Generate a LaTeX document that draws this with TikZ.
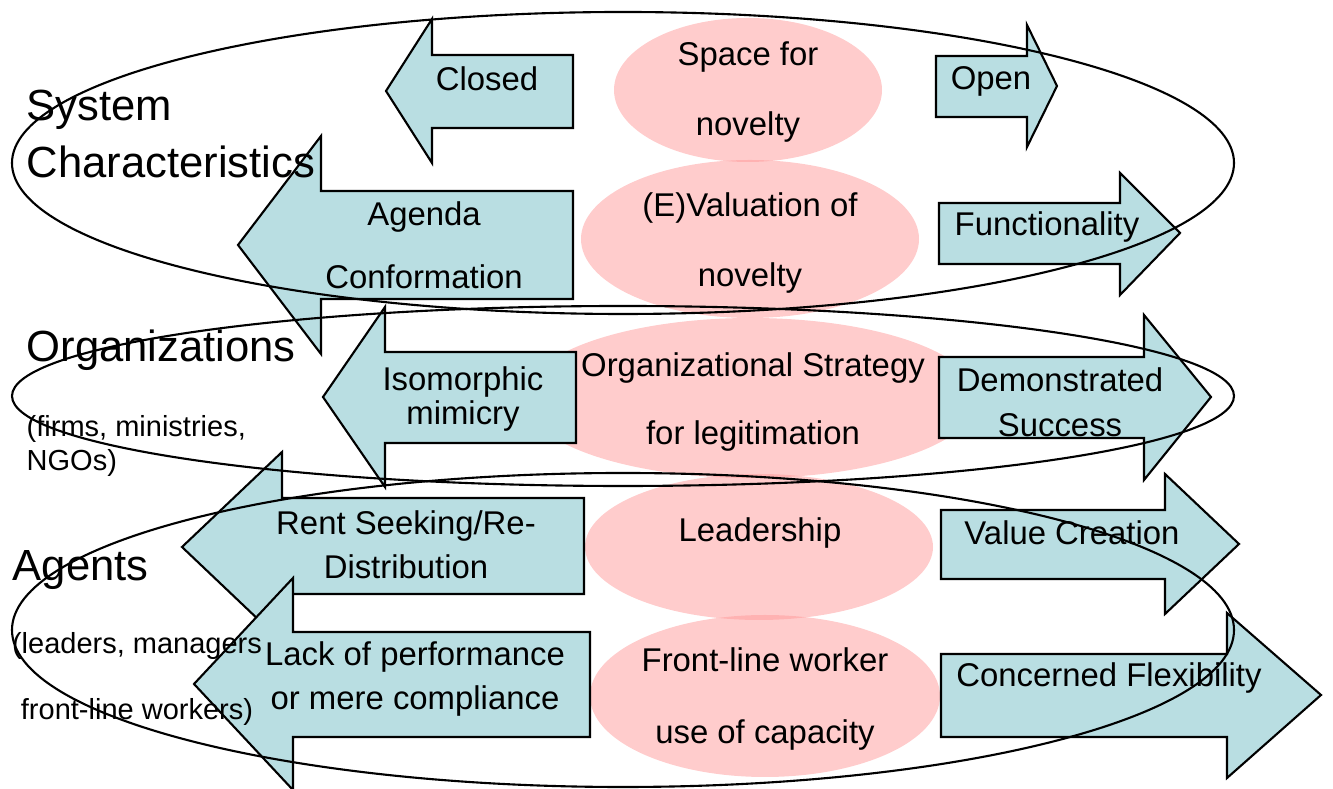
\documentclass[tikz,border=0pt]{standalone}
\usepackage{fontspec}
\setmainfont{Liberation Sans}
\definecolor{arrowblue}{RGB}{185,222,226}
\definecolor{novpink}{RGB}{255,153,153}

\begin{document}
\begin{tikzpicture}[x=0.01cm, y=-0.01cm,
    arr/.style={draw=black, line width=0.6pt, fill=arrowblue},
    blob/.style={fill=novpink, fill opacity=0.5},
    ring/.style={draw=black, line width=0.6pt},
    lbl/.style={font=\fontsize{9.35}{#1}\selectfont, align=center, inner sep=0pt},
    lbl/.default=11pt,
    sidelbl/.style={font=\fontsize{12.4}{#1}\selectfont, align=left, anchor=west, inner sep=0pt},
    sidelbl/.default=15pt,
    sublbl/.style={font=\fontsize{8.25}{#1}\selectfont, inner sep=0pt}]
    \useasboundingbox (0,0) rectangle (1333,789);

    % pink middle
    \path[blob] (748,90) ellipse [x radius=134, y radius=72];
    \path[blob] (750,239) ellipse [x radius=169, y radius=79];
    \path[blob] (751,398) ellipse [x radius=227, y radius=80];
    \path[blob] (759,547) ellipse [x radius=174, y radius=73];
    \path[blob] (765,696) ellipse [x radius=175, y radius=81];

    % arrows to the left
    \draw[arr] (573,55) -- (432,55) -- (432,19) -- (386,91) -- (432,163) -- (432,128) -- (573,128) -- cycle;
    \draw[arr] (573,191) -- (321,191) -- (321,136) -- (238,245) -- (321,354) -- (321,299) -- (573,299) -- cycle;
    \draw[arr] (576,352) -- (385,352) -- (385,307) -- (323,397) -- (385,487) -- (385,443) -- (576,443) -- cycle;
    \draw[arr] (584,498) -- (282,498) -- (282,452) -- (182,547) -- (282,642) -- (282,594) -- (584,594) -- cycle;
    \draw[arr] (590,632) -- (293,632) -- (293,578) -- (194,684) -- (293,790) -- (293,737) -- (590,737) -- cycle;

    % arrows to the right
    \draw[arr] (936,56) -- (1027,56) -- (1027,25) -- (1057,86) -- (1027,147) -- (1027,117) -- (936,117) -- cycle;
    \draw[arr] (939,203) -- (1120,203) -- (1120,173) -- (1180,233) -- (1120,295) -- (1120,264) -- (939,264) -- cycle;
    \draw[arr] (939,357) -- (1144,357) -- (1144,315) -- (1211,397) -- (1144,480) -- (1144,438) -- (939,438) -- cycle;
    \draw[arr] (941,510) -- (1165,510) -- (1165,474) -- (1239,544) -- (1165,614) -- (1165,579) -- (941,579) -- cycle;
    \draw[arr] (941,654) -- (1227,654) -- (1227,613) -- (1321,695) -- (1227,778) -- (1227,737) -- (941,737) -- cycle;

    \node[lbl=19.8pt] (space) at (748,92) {Space for\\novelty};
    \node[lbl=19.8pt] (valuation) at (750,243) {(E)Valuation of\\novelty};
    \node[lbl=19.5pt] (strategy) at (753,402) {Organizational Strategy\\for legitimation};
    \node[lbl] (leadership) at (760,533) {Leadership};
    \node[lbl=20.4pt] (capacity) at (765,699) {Front-line worker\\use of capacity};

    \node[lbl] (closed) at (487,79) {Closed};
    \node[lbl=17.8pt] (agenda) at (424,245) {Agenda\\Conformation};
    \node[lbl=8.5pt] (mimicry) at (463,399) {Isomorphic\\mimicry};
    \node[lbl=12.5pt] (rent) at (406,545) {Rent Seeking/Re-\\Distribution};
    \node[lbl=12.5pt] (lack) at (415,679) {Lack of performance\\or mere compliance};

    \node[lbl] (open) at (991,81) {Open};
    \node[lbl] (funct) at (1047,227) {Functionality};
    \node[lbl=12.7pt] (success) at (1060,402) {Demonstrated\\Success};
    \node[lbl] (value) at (1072,533) {Value Creation};
    \node[lbl] (flex) at (1109,678) {Concerned Flexibility};

    \node[sidelbl=16.2pt] (system) at (26,134) {System\\Characteristics};
    \node[sidelbl] (orgs) at (26,350) {Organizations};
    \node[sublbl, align=left, anchor=west, font=\fontsize{8.25}{9.6}\selectfont] (firms) at (26,446) {(firms, ministries,\\NGOs)};
    \node[sidelbl] (agents) at (12,570) {Agents};
    \node[sublbl, align=center, font=\fontsize{8.25}{19}\selectfont] (leaders) at (137,679) {(leaders, managers\\front-line workers)};

    % levels
    \draw[ring] (623,163) ellipse [x radius=611, y radius=151];
    \draw[ring] (623,396) ellipse [x radius=611, y radius=90];
    \draw[ring] (623,630) ellipse [x radius=611, y radius=157];
\end{tikzpicture}
\end{document}
